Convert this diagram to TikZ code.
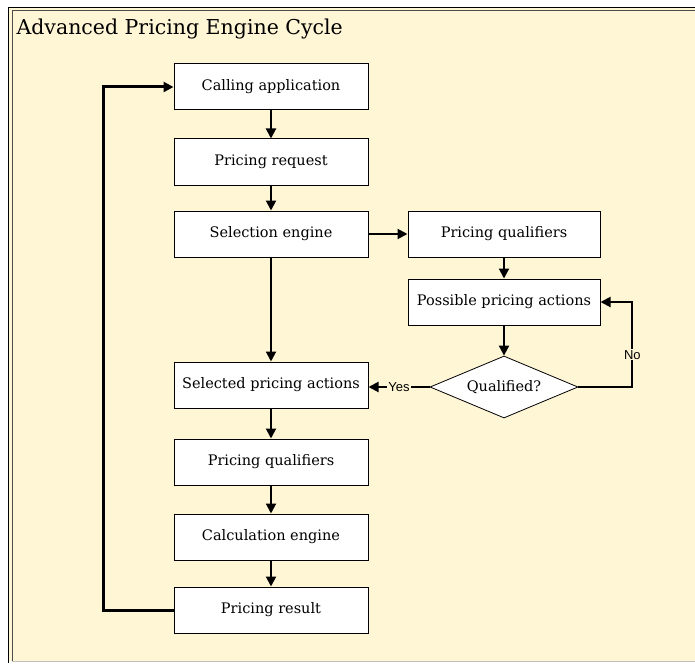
\documentclass[tikz,border=0pt]{standalone}
\usepackage{fontspec}
\setmainfont{DejaVu Serif}
\newfontfamily\tagfont{Liberation Sans}
\usepackage{tikz}
\usetikzlibrary{shapes.geometric, arrows.meta, positioning}
\definecolor{cyclebg}{HTML}{FFF6D6}
\tikzset{
  stepbox/.style={
    draw, line width=1pt, align=center, fill=white,
    minimum height=46pt, minimum width=194pt,
    font=\fontsize{14.5}{16}\selectfont, inner sep=2pt
  },
  testbox/.style={
    draw, diamond, aspect=2.4, line width=0.8pt, fill=white,
    minimum width=148pt, minimum height=62pt, inner sep=0pt,
    font=\fontsize{14.5}{16}\selectfont
  },
  flowarrow/.style={-{Triangle[length=10pt, width=10pt]}, line width=2pt},
  looparrow/.style={-{Triangle[length=10pt, width=10pt]}, line width=3pt},
  taglabel/.style={font=\tagfont\fontsize{13}{15}\selectfont, fill=cyclebg, inner sep=1pt},
}
\begin{document}
\begin{tikzpicture}[x=1pt, y=-1pt]
  \useasboundingbox (0,0) rectangle (695,663);
  % frame
  \fill[cyclebg] (8,7) rectangle (695,661);
  \draw[line width=1.2pt] (695,7.6) -- (8.6,7.6) -- (8.6,663);
  \draw[line width=1pt, black!70] (695,11) -- (12,11) -- (12,661);
  \draw[line width=1pt, black!25] (12,661) -- (695,661);
  \node[anchor=west, font=\fontsize{20.5}{23}\selectfont] (title) at (13,29) {Advanced Pricing Engine Cycle};

  % Main column
  \node[stepbox] (call) at (271,87) {Calling application};
  \node[stepbox] (req) at (271,162) {Pricing request};
  \node[stepbox] (sel) at (271,234) {Selection engine};
  \node[stepbox] (act) at (271,385) {Selected pricing actions};
  \node[stepbox] (qual) at (271,462) {Pricing qualifiers};
  \node[stepbox] (calc) at (271,537) {Calculation engine};
  \node[stepbox] (res) at (271,610) {Pricing result};

  % Qualifier column
  \node[stepbox, minimum width=192pt] (pq) at (504,234) {Pricing qualifiers};
  \node[stepbox, minimum width=192pt] (poss) at (504,302) {Possible pricing actions};
  \node[testbox] (ok) at (504,387) {Qualified?};

  % Arrows
  \draw[flowarrow] (call) -- (req);
  \draw[flowarrow] (req) -- (sel);
  \draw[flowarrow] (sel) -- (act);
  \draw[flowarrow] (act) -- (qual);
  \draw[flowarrow] (qual) -- (calc);
  \draw[flowarrow] (calc) -- (res);
  \draw[flowarrow] (sel) -- (pq);
  \draw[flowarrow] (pq) -- (poss);
  \draw[flowarrow] (poss) -- (ok.north);
  \draw[flowarrow] (ok.west) -- node[taglabel] {Yes} (act.east |- ok.west);
  \draw[flowarrow] (ok.east) -- ++(54,0) |- node[taglabel, pos=0.19] {No} (poss.east);
  \draw[looparrow] (res.west) -- ++(-70,0) |- (call.west);
\end{tikzpicture}
\end{document}
